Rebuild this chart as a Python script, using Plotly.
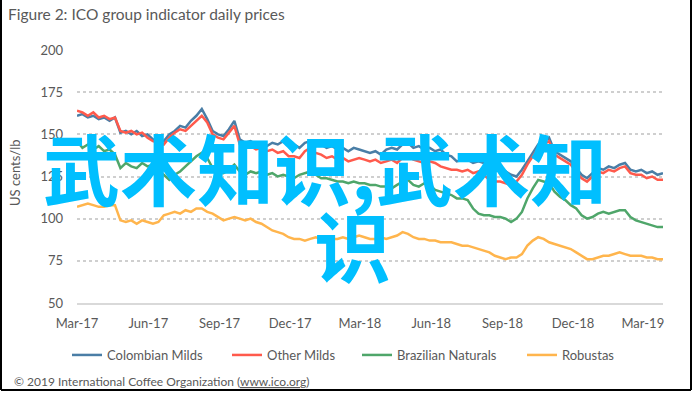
import pandas as pd
import plotly.graph_objects as go

# ---------------- data (weekly readings, US cents/lb) ----------------
start_date = "2017-03-01"
n_weeks = 109
dates = pd.date_range(start_date, periods=n_weeks, freq="7D")

series_names = ["Colombian Milds", "Other Milds", "Brazilian Naturals", "Robustas"]
series_colors = ["#4a7ea6", "#ff5a4c", "#4fa66a", "#ffb54d"]

colombian_milds = [
    161, 162, 160, 161, 159, 160, 158, 160, 151, 152, 150, 152, 149, 150, 147, 145,
    146, 150, 152, 155, 154, 158, 161, 165, 159, 152, 150, 149, 153, 158, 147, 145,
    146, 144, 145, 143, 145, 144, 146, 143, 144, 142, 145, 146, 143, 144, 142, 143,
    141, 142, 140, 142, 141, 140, 139, 140, 138, 141, 142, 141, 144, 145, 142, 143,
    141, 142, 140, 141, 138, 137, 134, 135, 135, 133, 134, 133, 130, 128, 129, 128,
    126, 125, 129, 134, 139, 144, 146, 148, 140, 138, 136, 134, 130, 126, 124, 127,
    130, 129, 131, 130, 132, 133, 129, 128, 129, 127, 128, 126, 127,
]
other_milds = [
    164, 163, 161, 163, 160, 161, 159, 160, 152, 151, 152, 150, 151, 148, 146, 145,
    144, 148, 151, 153, 152, 155, 158, 161, 157, 150, 148, 147, 151, 155, 144, 142,
    143, 141, 142, 140, 141, 139, 140, 137, 137, 136, 140, 142, 139, 138, 136, 137,
    135, 136, 134, 135, 136, 135, 134, 135, 133, 134, 135, 133, 136, 137, 135, 134,
    133, 134, 133, 131, 130, 129, 129, 128, 129, 127, 128, 126, 123, 122, 122, 121,
    120, 122, 126, 132, 137, 142, 144, 146, 138, 136, 134, 132, 128, 124, 122, 125,
    128, 127, 129, 128, 130, 131, 127, 126, 126, 124, 125, 123, 123,
]
brazilian_naturals = [
    146, 142, 144, 141, 143, 140, 141, 138, 130, 133, 131, 130, 133, 131, 132, 128,
    126, 123, 126, 128, 131, 134, 137, 139, 136, 130, 128, 127, 129, 132, 128, 126,
    128, 127, 128, 126, 127, 125, 126, 125, 124, 126, 127, 128, 126, 124, 124, 123,
    122, 122, 121, 122, 121, 121, 120, 120, 119, 119, 118, 120, 122, 123, 120, 119,
    121, 120, 117, 116, 115, 114, 112, 112, 111, 106, 103, 102, 102, 101, 101, 100,
    98, 100, 104, 112, 118, 123, 122, 121, 116, 113, 111, 108, 106, 102, 100, 101,
    103, 104, 103, 104, 105, 105, 101, 99, 98, 97, 96, 95, 95,
]
robustas = [
    107, 108, 109, 108, 107, 107, 108, 108, 99, 98, 99, 97, 99, 98, 97, 98,
    102, 103, 104, 103, 105, 104, 106, 106, 104, 103, 101, 99, 100, 101, 100, 99,
    100, 98, 97, 95, 93, 92, 91, 89, 88, 88, 87, 88, 89, 88, 89, 88,
    88, 89, 88, 89, 90, 89, 88, 88, 89, 88, 89, 90, 92, 91, 89, 88,
    88, 87, 87, 86, 86, 86, 85, 84, 84, 83, 82, 81, 80, 78, 77, 76,
    77, 77, 79, 84, 87, 89, 88, 86, 85, 84, 83, 82, 80, 78, 76, 76,
    77, 78, 78, 79, 80, 79, 78, 78, 78, 77, 77, 76, 76,
]
series_values = [colombian_milds, other_milds, brazilian_naturals, robustas]

y_ticks = [50, 75, 100, 125, 150, 175, 200]
x_range = ["2017-03-01", "2019-03-27"]

title_text = "Figure 2: ICO group indicator daily prices"
y_title = "US cents/lb"
footer_text = "© 2019 International Coffee Organization (<u>www.ico.org</u>)"
watermark_line1 = "武术知识,武术知"
watermark_line2 = "识"

# ---------------- layout geometry (pixels) ----------------
W, H = 695, 394
PL, PR, PT, PB = 77, 663, 50, 303          # plot area
pw, ph = PR - PL, PB - PT


def px(x):
    return (x - PL) / pw


def py(y):
    return (PB - y) / ph


FONT = "Lato, 'Open Sans', sans-serif"
GREY = "#595959"

fig = go.Figure()
legend_keys = ["legend", "legend2", "legend3", "legend4"]
for name, vals, col, lk in zip(series_names, series_values, series_colors, legend_keys):
    fig.add_trace(go.Scatter(
        x=dates, y=vals, mode="lines", name=name,
        line=dict(color=col, width=2.5),
        legend=lk,
    ))

legend_x_px = [72, 232, 362, 527]
legend_y = py(355)
legend_common = dict(orientation="h", xanchor="left", yanchor="middle", y=legend_y,
                     font=dict(family=FONT, size=13, color=GREY),
                     bgcolor="rgba(0,0,0,0)", borderwidth=0,
                     itemclick=False, itemdoubleclick=False)

layout_legends = {}
for lk, lx in zip(legend_keys, legend_x_px):
    layout_legends[lk] = dict(x=px(lx - 5), **legend_common)

fig.update_layout(
    width=W, height=H,
    margin=dict(l=PL, r=W - PR, t=PT, b=H - PB),
    paper_bgcolor="white", plot_bgcolor="white",
    showlegend=True,
    title=dict(text=title_text, x=8 / W, xanchor="left", xref="container",
               y=1 - 15 / H, yanchor="middle", yref="container",
               font=dict(family=FONT, size=15.5, color=GREY)),
    xaxis=dict(type="date", range=x_range, tick0="2017-03-01", dtick="M3",
               tickformat="%b-%y", showgrid=False, zeroline=False,
               showline=True, linecolor="#d9d9d9", linewidth=1.5,
               ticks="", ticklabelstandoff=8,
               tickfont=dict(family=FONT, size=13, color=GREY)),
    yaxis=dict(range=[50, 200], tickvals=y_ticks, showgrid=True,
               gridcolor="#cfcfcf", griddash="dot", gridwidth=1.5,
               zeroline=False, showline=False, ticks="", ticklabelstandoff=13,
               tickfont=dict(family=FONT, size=13, color=GREY)),
    **layout_legends,
)

# axis title
fig.add_annotation(text=y_title, xref="paper", yref="paper", x=px(15), y=py(173),
                   textangle=-90, showarrow=False, xanchor="center", yanchor="middle",
                   font=dict(family=FONT, size=13, color=GREY))
# footer
fig.add_annotation(text=footer_text, xref="paper", yref="paper", x=px(12), y=py(381),
                   showarrow=False, xanchor="left", yanchor="middle",
                   font=dict(family=FONT, size=12, color=GREY))
# watermark overlay
fig.add_annotation(text=watermark_line1, xref="paper", yref="paper", x=px(325), y=py(166),
                   showarrow=False, xanchor="center", yanchor="middle",
                   font=dict(family="'Noto Sans CJK SC'", size=77, color="#00bfff", weight="bold"))
fig.add_annotation(text=watermark_line2, xref="paper", yref="paper", x=px(352), y=py(243),
                   showarrow=False, xanchor="center", yanchor="middle",
                   font=dict(family="'Noto Sans CJK SC'", size=77, color="#00bfff", weight="bold"))

# frame around the figure
frame = dict(type="line", xref="paper", yref="paper", line=dict(color="black", width=2))
fig.add_shape(x0=px(1), x1=px(1), y0=py(0), y1=py(390), **frame)
fig.add_shape(x0=px(691), x1=px(691), y0=py(0), y1=py(390), **frame)
fig.add_shape(x0=px(1), x1=px(691), y0=py(390), y1=py(390), **frame)

fig.write_html("out.html", config={"displayModeBar": False},
               post_script="document.body.style.margin='0';document.body.style.overflow='hidden';")
